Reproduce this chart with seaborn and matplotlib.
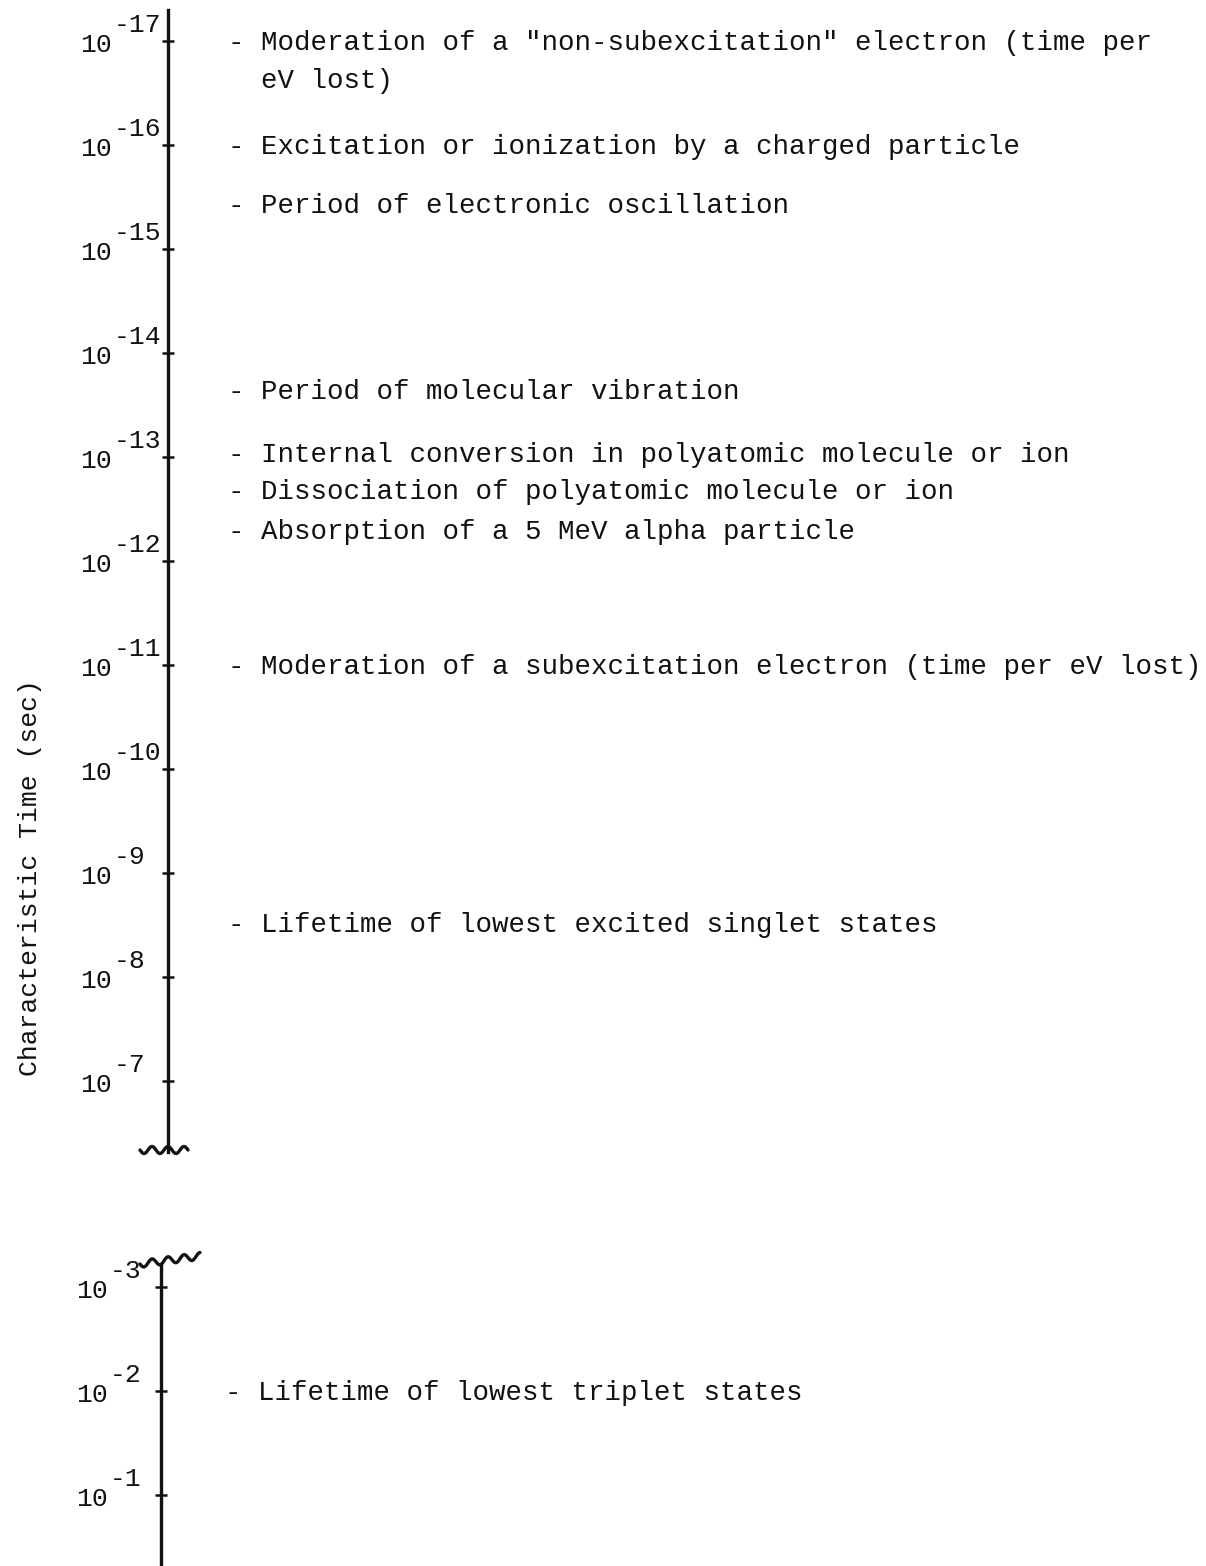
import numpy as np
import matplotlib
matplotlib.use("Agg")
import matplotlib.pyplot as plt
from matplotlib.lines import Line2D
from matplotlib.transforms import IdentityTransform, ScaledTranslation
import seaborn as sns

# Decade exponents labelled on the two segments of the broken time axis
upper_decades = [-17, -16, -15, -14, -13, -12, -11, -10, -9, -8, -7]
lower_decades = [-3, -2, -1]

# Characteristic times (log10 of seconds) and the process they belong to
event_log_times = [-17.0, -16.0, -15.43, -13.64, -13.04, -12.68, -12.3, -11.0, -8.52, -2.0]
event_labels = [
    '- Moderation of a "non-subexcitation" electron (time per\n  eV lost)',
    "- Excitation or ionization by a charged particle",
    "- Period of electronic oscillation",
    "- Period of molecular vibration",
    "- Internal conversion in polyatomic molecule or ion",
    "- Dissociation of polyatomic molecule or ion",
    "- Absorption of a 5 MeV alpha particle",
    "- Moderation of a subexcitation electron (time per eV lost)",
    "- Lifetime of lowest excited singlet states",
    "- Lifetime of lowest triplet states",
]
axis_title = "Characteristic Time (sec)"

sns.set_theme(style="white")
plt.rcParams["font.family"] = ["Liberation Mono", "DejaVu Sans Mono"]
plt.rcParams["text.color"] = "#111111"

W, H, DPI = 1206, 1566, 100
fig = plt.figure(figsize=(W / DPI, H / DPI), dpi=DPI)
fig.patch.set_facecolor("white")

INK = "#111111"
TEXT_SIZE = 19.8
TICK_SIZE = 19
LINE_PITCH = 38  # px between typed lines

# segment layout: pixel extent on the page and log10 limits (top, bottom)
segments = [
    dict(top=10, bottom=1152, lim=(-17.298, -6.317), spine_x=168, label_x=112,
         text_x=228, decades=upper_decades),
    dict(top=1265, bottom=1566, lim=(-3.21, -0.317), spine_x=161, label_x=108,
         text_x=225, decades=lower_decades),
]


def px_offset(dx, dy):
    return ScaledTranslation(dx / DPI, dy / DPI, fig.dpi_scale_trans)


axes = []
for seg in segments:
    ax = fig.add_axes([0, 1 - seg["bottom"] / H, 1, (seg["bottom"] - seg["top"]) / H])
    ax.patch.set_alpha(0)
    ax.set_xlim(0, W)
    ax.set_yscale("log")
    ax.set_ylim(10.0 ** seg["lim"][1], 10.0 ** seg["lim"][0])
    sns.despine(ax=ax, top=True, right=True, bottom=True, left=False)
    ax.spines["left"].set_position(("data", seg["spine_x"]))
    ax.spines["left"].set_linewidth(2.4)
    ax.spines["left"].set_color(INK)
    ax.set_xticks([])
    ax.set_yticks([10.0 ** d for d in seg["decades"]])
    ax.yaxis.set_minor_locator(matplotlib.ticker.NullLocator())
    ax.tick_params(axis="y", which="major", direction="inout", length=8, width=1.8,
                   color=INK, left=True, labelleft=False)
    ax.grid(False)

    # typewritten "10" with a full-size raised exponent
    for d in seg["decades"]:
        ax.text(seg["label_x"], 10.0 ** d, "10", ha="right", va="baseline",
                fontsize=TICK_SIZE, color=INK,
                transform=ax.transData + px_offset(0, -11))
        ax.text(seg["label_x"] + 2, 10.0 ** d, str(d), ha="left", va="baseline",
                fontsize=TICK_SIZE, color=INK,
                transform=ax.transData + px_offset(0, 9))
    axes.append(ax)

# process labels placed at their characteristic times (one typed line at a time)
for t, lab in zip(event_log_times, event_labels):
    seg_i = 0 if segments[0]["lim"][0] <= t <= segments[0]["lim"][1] else 1
    ax = axes[seg_i]
    for k, line in enumerate(lab.split("\n")):
        ax.text(segments[seg_i]["text_x"], 10.0 ** t, line, ha="left", va="baseline",
                fontsize=TEXT_SIZE, color=INK,
                transform=ax.transData + px_offset(0, -9 - k * LINE_PITCH))

# break marks where the axis is interrupted
def wiggle(x0, x1, y0, y1, amp=3.5, period=16):
    xs = np.linspace(x0, x1, 80)
    ys = np.linspace(y0, y1, 80) + amp * np.sin(2 * np.pi * (xs - x0) / period)
    fig.add_artist(Line2D(xs, H - ys, transform=IdentityTransform(), color=INK,
                          lw=2.4, solid_capstyle="round", solid_joinstyle="round"))


wiggle(140, 188, 1150, 1150)
wiggle(140, 200, 1264, 1256)

fig.text(30 / W, 1 - 878 / H, axis_title, rotation=90, ha="center", va="center",
         fontsize=TICK_SIZE, color=INK)

fig.savefig("out.png", dpi=DPI, facecolor="white")
